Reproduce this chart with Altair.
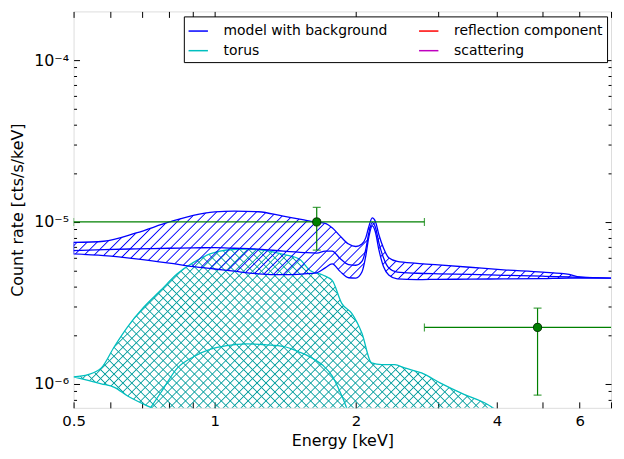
import math
import altair as alt
import pandas as pd

# ---------------- data ----------------
# model with background (blue band): energy grid, upper / median / lower curves
blue_e = [0.5, 0.58, 0.68, 0.8, 0.9, 1.0, 1.1, 1.24, 1.4, 1.55, 1.65, 1.72, 1.78, 1.85, 1.93,
          2.0, 2.06, 2.1, 2.13, 2.167, 2.2, 2.24, 2.29, 2.35, 2.45, 2.7, 3.0, 3.5, 4.13, 5.0,
          5.7, 6.0, 7.0]
blue_hi = [7.47e-6, 7.6e-6, 8.55e-6, 1.0e-5, 1.1e-5, 1.155e-5, 1.168e-5, 1.156e-5, 1.085e-5,
           1.03e-5, 9.95e-6, 9.8e-6, 9.2e-6, 8.2e-6, 7.3e-6, 7.05e-6, 7.3e-6, 8.0e-6, 9.3e-6,
           1.06e-5, 1.01e-5, 8.3e-6, 6.9e-6, 6.0e-6, 5.7e-6, 5.55e-6, 5.43e-6, 5.25e-6, 5.06e-6,
           4.9e-6, 4.74e-6, 4.58e-6, 4.5e-6]
blue_mid = [6.64e-6, 6.74e-6, 6.82e-6, 6.88e-6, 6.92e-6, 6.93e-6, 6.88e-6, 6.8e-6, 6.6e-6,
            6.47e-6, 6.42e-6, 6.6e-6, 6.6e-6, 5.95e-6, 5.45e-6, 5.4e-6, 5.7e-6, 6.8e-6, 8.5e-6,
            9.9e-6, 9.3e-6, 7.4e-6, 6.0e-6, 5.2e-6, 4.9e-6, 4.82e-6, 4.78e-6, 4.74e-6, 4.68e-6,
            4.62e-6, 4.57e-6, 4.55e-6, 4.5e-6]
blue_lo = [6.34e-6, 6.19e-6, 5.92e-6, 5.57e-6, 5.3e-6, 5.12e-6, 4.96e-6, 4.78e-6, 4.72e-6,
           4.78e-6, 4.85e-6, 5.2e-6, 5.5e-6, 4.95e-6, 4.52e-6, 4.5e-6, 4.9e-6, 6.2e-6, 8.0e-6,
           9.45e-6, 8.7e-6, 6.7e-6, 5.3e-6, 4.7e-6, 4.45e-6, 4.4e-6, 4.42e-6, 4.43e-6, 4.45e-6,
           4.47e-6, 4.5e-6, 4.5e-6, 4.5e-6]

# torus (cyan band)
cyan_e = [0.5, 0.537, 0.573, 0.611, 0.652, 0.707, 0.767, 0.832, 0.901, 0.977, 1.06, 1.168,
          1.288, 1.4, 1.514, 1.6, 1.7, 1.78, 1.867, 1.96, 2.06, 2.16, 2.27, 2.42, 2.54, 2.76,
          3.03, 3.4, 3.81, 3.95]
cyan_hi = [1.104e-6, 1.14e-6, 1.253e-6, 1.7e-6, 2.25e-6, 2.99e-6, 3.78e-6, 4.78e-6, 5.63e-6,
           6.34e-6, 6.71e-6, 6.8e-6, 6.64e-6, 6.3e-6, 5.9e-6, 5.0e-6, 4.7e-6, 4.35e-6, 3.13e-6,
           2.72e-6, 2.05e-6, 1.345e-6, 1.313e-6, 1.313e-6, 1.253e-6, 1.167e-6, 1.01e-6, 8.6e-7,
           7.47e-7, 7.0e-7]
cyan_mid = [3.0e-7, 3.3e-7, 3.7e-7, 4.3e-7, 5.0e-7, 6.3e-7, 8.8e-7, 1.25e-6, 1.47e-6, 1.63e-6,
            1.72e-6, 1.766e-6, 1.74e-6, 1.7e-6, 1.57e-6, 1.46e-6, 1.3e-6, 1.12e-6, 8.4e-7, 6.0e-7,
            5.0e-7, 4.5e-7, 4.2e-7, 4.0e-7, 3.8e-7, 3.6e-7, 3.4e-7, 3.2e-7, 3.0e-7, 3.0e-7]
cyan_lo = [1.104e-6, 1.05e-6, 1.0e-6, 9.5e-7, 8.4e-7, 7.45e-7, 6.7e-7, 6.1e-7, 5.6e-7, 5.2e-7,
           4.9e-7, 4.6e-7, 4.4e-7, 4.2e-7, 4.0e-7, 3.9e-7, 3.8e-7, 3.7e-7, 3.6e-7, 3.5e-7,
           3.4e-7, 3.3e-7, 3.2e-7, 3.1e-7, 3.0e-7, 2.9e-7, 2.8e-7, 2.7e-7, 2.6e-7, 2.5e-7]

# observed data points with errors
pt_e = [1.65, 4.88]
pt_e_lo = [0.5, 2.8]
pt_e_hi = [2.8, 8.0]
pt_rate = [1.0e-5, 2.23e-6]
pt_rate_lo = [6.7e-6, 8.5e-7]
pt_rate_hi = [1.23e-5, 2.93e-6]

# legend (order fills column by column)
legend_names = ["model with background", "torus", "reflection component", "scattering"]
legend_colors = ["#0000ff", "#00bfbf", "#ff0000", "#bf00bf"]

x_label_vals = [0.5, 1, 2, 4, 6]
x_tick_vals = [0.5, 0.6, 0.7, 0.8, 0.9, 1, 2, 3, 4, 5, 6, 7]
y_major = [1e-6, 1e-5, 1e-4]
y_minor = [8e-7, 9e-7] + [k * 1e-6 for k in range(2, 10)] + [k * 1e-5 for k in range(2, 10)]

# ---------------- tables ----------------
blue_df = pd.DataFrame({"e": blue_e, "hi": blue_hi, "lo": blue_lo})
cyan_df = pd.DataFrame({"e": cyan_e, "hi": cyan_hi, "lo": cyan_lo})
mid_df = pd.concat([
    pd.DataFrame({"e": blue_e, "v": blue_mid, "comp": "model with background"}),
    pd.DataFrame({"e": cyan_e, "v": cyan_mid, "comp": "torus"}),
])
pts_df = pd.DataFrame({"e": pt_e, "elo": pt_e_lo, "ehi": pt_e_hi,
                       "r": pt_rate, "rlo": pt_rate_lo, "rhi": pt_rate_hi})

W, H = 541, 399
XDOM = [0.5, 7.0]
YDOM = [7.1e-7, 2e-4]
FONT = "DejaVu Sans"
xs = alt.Scale(type="log", domain=XDOM, nice=False)
ys = alt.Scale(type="log", domain=YDOM, nice=False)
GREEN = "#008000"


# ---------------- hatch fills (gradient stripes, style only) ----------------
def _px(e):
    return W * math.log10(e / XDOM[0]) / math.log10(XDOM[1] / XDOM[0])


def _py(v):
    return H * math.log10(YDOM[1] / v) / math.log10(YDOM[1] / YDOM[0])


def hatch(rgb, e_vals, hi_vals, lo_vals, spacing, half, backslash=False):
    bw = _px(max(e_vals)) - _px(min(e_vals))
    bh = _py(min(lo_vals)) - _py(max(hi_vals))
    span = bw + bh
    r = bh / bw
    s = (1 + r) / (1 + r * r)
    clear = "rgba(%d,%d,%d,0)" % rgb
    solid = "rgba(%d,%d,%d,1)" % rgb
    stops = []
    k = 0.5
    while True:
        c = k * spacing / span
        a = half / span
        if c + a > 1:
            break
        stops += [{"offset": c - a, "color": clear},
                  {"offset": c, "color": solid},
                  {"offset": c + a, "color": clear}]
        k += 1
    if backslash:
        return {"gradient": "linear", "x1": 0, "y1": 1, "x2": s, "y2": 1 - s * r, "stops": stops}
    return {"gradient": "linear", "x1": 0, "y1": 0, "x2": s, "y2": s * r, "stops": stops}


def X(field, axis=None):
    return alt.X(field, type="quantitative", scale=xs, axis=axis, title=None)


def Y(field, axis=None):
    return alt.Y(field, type="quantitative", scale=ys, axis=axis, title=None)


cyan_h1 = alt.Chart(cyan_df).mark_area(
    fill=hatch((10, 160, 160), cyan_e, cyan_hi, cyan_lo, 9.0, 1.25),
    interpolate="monotone", clip=True
).encode(x=X("e"), y=Y("hi"), y2="lo")
cyan_h2 = alt.Chart(cyan_df).mark_area(
    fill=hatch((10, 160, 160), cyan_e, cyan_hi, cyan_lo, 9.0, 1.25, backslash=True),
    stroke="#00bfbf", strokeWidth=1.3, interpolate="monotone", clip=True
).encode(x=X("e"), y=Y("hi"), y2="lo")

blue_area = alt.Chart(blue_df).mark_area(
    fill=hatch((0, 0, 255), blue_e, blue_hi, blue_lo, 10.0, 1.3),
    stroke="#0000ff", strokeWidth=1.3, interpolate="monotone", clip=True
).encode(x=X("e"), y=Y("hi"), y2="lo")

mid_lines = alt.Chart(mid_df).mark_line(
    strokeWidth=1.3, interpolate="monotone", clip=True
).encode(
    x=X("e"), y=Y("v"),
    color=alt.Color("comp:N", scale=alt.Scale(domain=legend_names, range=legend_colors),
                    legend=alt.Legend(
                        title=None, orient="none", legendX=111, legendY=5, columns=2,
                        symbolType="stroke", symbolSize=380, symbolStrokeWidth=1.5,
                        labelFont=FONT, labelFontSize=14, labelColor="black",
                        labelOffset=15, columnPadding=28, rowPadding=2,
                        padding=4, strokeColor="black", fillColor="white",
                        cornerRadius=0, labelLimit=400)),
)

xerr = alt.Chart(pts_df).mark_rule(color=GREEN, strokeWidth=1.2, clip=True).encode(
    x=X("elo"), x2="ehi", y=Y("r"))
yerr = alt.Chart(pts_df).mark_rule(color=GREEN, strokeWidth=1.2, clip=True).encode(
    x=X("e"), y=Y("rlo"), y2="rhi")
xcap_lo = alt.Chart(pts_df).mark_tick(color=GREEN, orient="vertical", size=8, thickness=1.2,
                                      clip=True).encode(x=X("elo"), y=Y("r"))
xcap_hi = alt.Chart(pts_df).mark_tick(color=GREEN, orient="vertical", size=8, thickness=1.2,
                                      clip=True).encode(x=X("ehi"), y=Y("r"))
ycap_lo = alt.Chart(pts_df).mark_tick(color=GREEN, orient="horizontal", size=8, thickness=1.2,
                                      clip=True).encode(x=X("e"), y=Y("rlo"))
ycap_hi = alt.Chart(pts_df).mark_tick(color=GREEN, orient="horizontal", size=8, thickness=1.2,
                                      clip=True).encode(x=X("e"), y=Y("rhi"))
dots = alt.Chart(pts_df).mark_point(filled=True, size=68, fill=GREEN, stroke="#002800",
                                    strokeWidth=0.9, opacity=1, clip=True).encode(
    x=X("e"), y=Y("r"))


# ---------------- axes (ticks inside, matplotlib style) ----------------
def ax_layer(xaxis=None, yaxis=None):
    return alt.Chart(pts_df).mark_point(opacity=0).encode(x=X("e", xaxis), y=Y("r", yaxis))


common = dict(grid=False, domain=False, labelFont=FONT, titleFont=FONT, labelColor="black",
              titleColor="black", tickColor="black", titleFontWeight="normal")

x_labels = ax_layer(xaxis=alt.Axis(orient="bottom", values=x_label_vals, format="~g",
                                   ticks=False, tickSize=0, labelPadding=6, labelFontSize=15,
                                   title="Energy [keV]", titleFontSize=16, titlePadding=4,
                                   labelFlush=False, labelOverlap=False, **common))
x_ticks_b = ax_layer(xaxis=alt.Axis(orient="top", offset=-H, values=x_tick_vals, labels=False,
                                    tickSize=6, tickWidth=1, title=None, **common))
x_ticks_t = ax_layer(xaxis=alt.Axis(orient="bottom", offset=-H, values=x_tick_vals, labels=False,
                                    tickSize=6, tickWidth=1, title=None, **common))
y_labels = ax_layer(yaxis=alt.Axis(
    orient="left", values=y_major, ticks=False, tickSize=0, labelPadding=5, labelFontSize=16,
    labelExpr="'10' + (datum.value < 5e-6 ? '\u207b\u2076' : (datum.value < 5e-5 ? '\u207b\u2075' : '\u207b\u2074'))",
    title="Count rate [cts/s/keV]", titleFontSize=16, titlePadding=8, labelFlush=False,
    labelOverlap=False, **common))
y_maj_l = ax_layer(yaxis=alt.Axis(orient="right", offset=-W, values=y_major, labels=False,
                                  tickSize=6, title=None, **common))
y_min_l = ax_layer(yaxis=alt.Axis(orient="right", offset=-W, values=y_minor, labels=False,
                                  tickSize=3, title=None, **common))
y_maj_r = ax_layer(yaxis=alt.Axis(orient="left", offset=-W, values=y_major, labels=False,
                                  tickSize=6, title=None, **common))
y_min_r = ax_layer(yaxis=alt.Axis(orient="left", offset=-W, values=y_minor, labels=False,
                                  tickSize=3, title=None, **common))

chart = alt.layer(
    cyan_h1, cyan_h2, blue_area, mid_lines, xerr, yerr, xcap_lo, xcap_hi, ycap_lo, ycap_hi, dots,
    x_labels, x_ticks_b, x_ticks_t, y_labels, y_maj_l, y_min_l, y_maj_r, y_min_r,
).resolve_axis(x="independent", y="independent").properties(
    width=W, height=H, padding={"left": 1, "top": 1, "right": 4, "bottom": 2}
).configure_view(stroke="black", strokeWidth=1.3).configure(background="white")

chart.save("out.html", embed_options={"renderer": "svg", "actions": False})
